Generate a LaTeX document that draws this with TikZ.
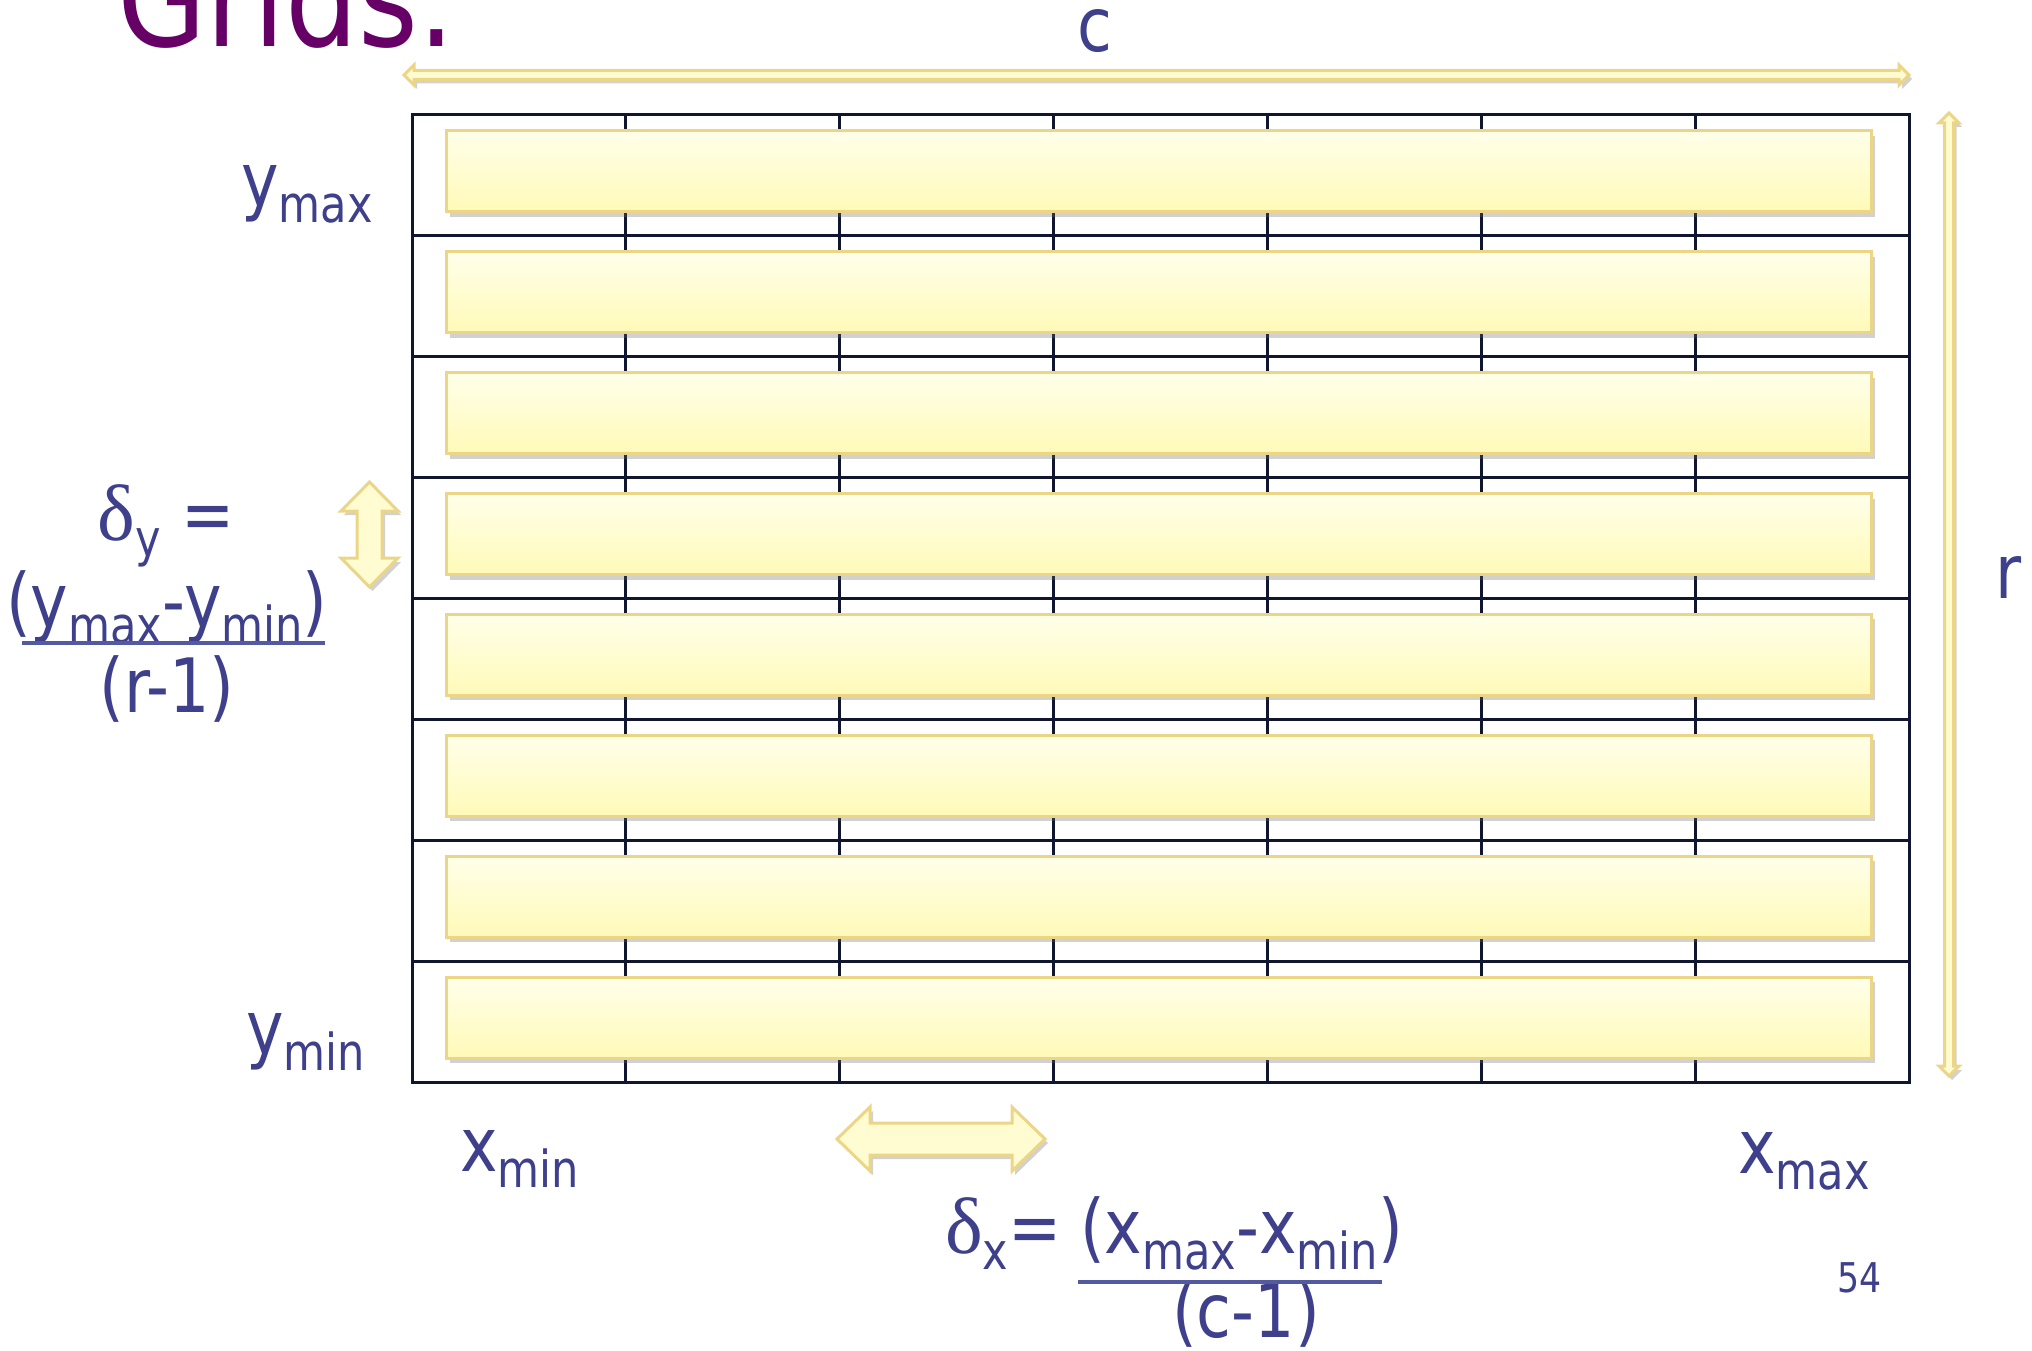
\documentclass[tikz,border=0pt]{standalone}
\usepackage{fontspec}
\setmainfont[FakeStretch=0.94]{DejaVu Sans Condensed}
\newfontfamily\greekfont{Liberation Serif}
\usetikzlibrary{positioning, shadows}

\definecolor{labelblue}{RGB}{62,64,140}
\definecolor{rulerblue}{RGB}{84,90,160}
\definecolor{titlepurple}{RGB}{102,0,102}
\definecolor{gridnavy}{RGB}{16,22,48}
\definecolor{barborder}{RGB}{236,214,134}
\definecolor{bartop}{RGB}{255,255,234}
\definecolor{barbottom}{RGB}{255,250,184}
\definecolor{arrowfill}{RGB}{255,252,210}

\newcommand{\lowsub}[1]{\raisebox{-16pt}{\fontsize{51}{55}\selectfont #1}}
\newcommand{\dlt}{{\greekfont\fontsize{80}{85}\selectfont δ}}

\begin{document}
\begin{tikzpicture}[
            x=1pt, y=-1pt,
            % styles
            label/.style={inner sep=0pt, text=labelblue, font=\fontsize{75}{80}\selectfont},
            barbox/.style={rectangle, draw=barborder, line width=3pt, top color=bartop, bottom color=barbottom, minimum width=1425pt, minimum height=81pt, inner sep=0pt, drop shadow={shadow xshift=4pt, shadow yshift=-5pt, opacity=0.3, fill=black!60}},
            gridline/.style={draw=gridnavy, line width=3pt},
            yellowarrow/.style={draw=barborder, line width=3pt, fill=arrowfill, drop shadow={shadow xshift=3pt, shadow yshift=-4pt, opacity=0.3, fill=black!60}},
            fracline/.style={draw=rulerblue, line width=4pt}
        ]
        \clip (0,0) rectangle (2032,1351);

        % title, cut by the top edge
        \node (title) [inner sep=0pt, anchor=base west, text=titlepurple, font=\fontsize{136}{140}\selectfont] at (117,47) {Grids.};

        % grid of r rows and c columns
        \draw [gridline] (412,115) rectangle (1909,1082);
        \foreach \k in {1,...,7} \draw [gridline] (412,115+120.875*\k) -- (1909,115+120.875*\k);
        \foreach \k in {1,...,6} \draw [gridline] (412+213.857*\k,115) -- (412+213.857*\k,1082);

        % one bar per row
        \foreach \k in {1,...,8}
            \node (bar\k) [barbox] at (1158.5,115+120.875*\k-64.4) {};

        % extent arrows
        \path [yellowarrow] (404,75) -- (414,65) -- (414,70.5) -- (1899,70.5) -- (1899,65) -- (1909,75) -- (1899,85) -- (1899,79.5) -- (414,79.5) -- (414,85) -- cycle;
        \path [yellowarrow] (1949,113) -- (1959,123) -- (1953.5,123) -- (1953.5,1066) -- (1959,1066) -- (1949,1076) -- (1939,1066) -- (1944.5,1066) -- (1944.5,123) -- (1939,123) -- cycle;

        % step arrows
        \path [yellowarrow] (369.5,482) -- (398,511) -- (382,511) -- (382,558) -- (398,558) -- (369.5,587) -- (341,558) -- (357,558) -- (357,511) -- (341,511) -- cycle;
        \path [yellowarrow] (837,1139) -- (870,1107) -- (870,1123) -- (1012,1123) -- (1012,1107) -- (1045,1139) -- (1012,1171) -- (1012,1155) -- (870,1155) -- (870,1171) -- cycle;

        % axis labels
        \node (clabel) [label, anchor=base west] at (1077,52) {c};
        \node (rlabel) [label, anchor=base west] at (1995,598) {r};
        \node (ymax) [label, anchor=base west] at (241,207) {y\lowsub{max}};
        \node (ymin) [label, anchor=base west] at (246,1054) {y\lowsub{min}};
        \node (xmin) [label, anchor=base west] at (460,1171) {x\lowsub{min}};
        \node (xmax) [label, anchor=base west] at (1738,1173) {x\lowsub{max}};

        % delta y
        \node (dyhead) [label, anchor=base] at (166,540) {\dlt\lowsub{y} =};
        \node (dynum) [label, anchor=base] at (167,627) {(y\lowsub{max}-y\lowsub{min})};
        \node (dyden) [label, anchor=base] at (167,712) {(r-1)};
        \draw [fracline] (22,643) -- (325,643);

        % delta x
        \node (dxhead) [label, anchor=base west] at (945,1253) {\dlt\lowsub{x}=};
        \node (dxnum) [label, anchor=base west] at (1080,1253) {(x\lowsub{max}-x\lowsub{min})};
        \node (dxden) [label, anchor=base] at (1246,1337) {(c-1)};
        \draw [fracline] (1078,1282) -- (1382,1282);

        % slide number
        \node (slideno) [label, anchor=base west, font=\fontsize{41}{44}\selectfont] at (1837,1292) {54};
\end{tikzpicture}
\end{document}
